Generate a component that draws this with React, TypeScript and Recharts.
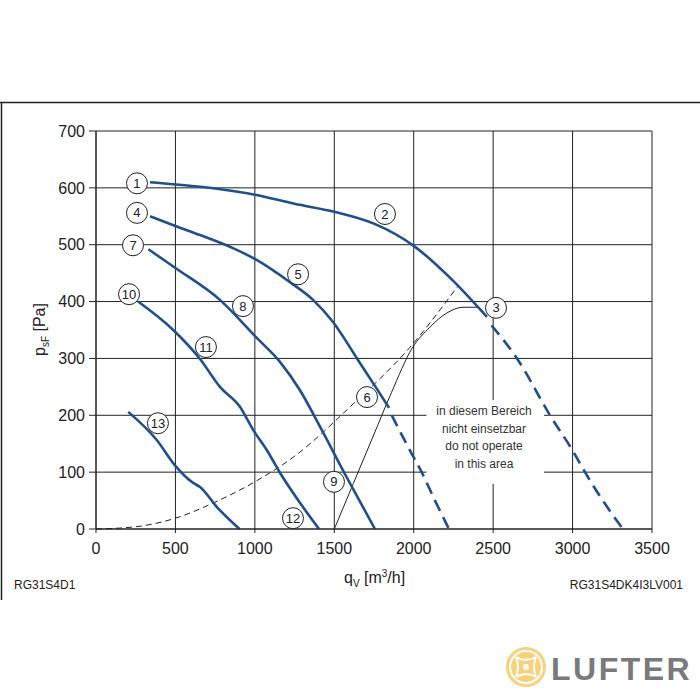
import React from "react";
import { LineChart, Line, XAxis, YAxis, CartesianGrid, ReferenceDot, ReferenceArea } from "recharts";

// q = volume flow [m³/h], p = static pressure [Pa]
const curve1 = [
  { q: 340, p: 610 }, { q: 500, p: 606 }, { q: 750, p: 599 }, { q: 1000, p: 588 },
  { q: 1250, p: 572 }, { q: 1500, p: 558 }, { q: 1750, p: 537 }, { q: 2000, p: 498 },
  { q: 2250, p: 436 }, { q: 2461, p: 373 },
];
const curve1Dash = [
  { q: 2490, p: 358 }, { q: 2650, p: 300 }, { q: 2858, p: 200 }, { q: 3000, p: 138 },
  { q: 3078, p: 100 }, { q: 3200, p: 46 }, { q: 3317, p: 0 },
];
const curve4 = [
  { q: 340, p: 550 }, { q: 500, p: 533 }, { q: 655, p: 517 }, { q: 862, p: 494 },
  { q: 1000, p: 475 }, { q: 1221, p: 434 }, { q: 1366, p: 403 }, { q: 1492, p: 364 },
  { q: 1643, p: 300 }, { q: 1769, p: 246 }, { q: 1845, p: 213 },
];
const curve4Dash = [
  { q: 1862, p: 200 }, { q: 1965, p: 144 }, { q: 2050, p: 100 }, { q: 2134, p: 50 }, { q: 2222, p: 0 },
];
const curve7 = [
  { q: 330, p: 492 }, { q: 500, p: 459 }, { q: 780, p: 403 }, { q: 1012, p: 336 },
  { q: 1158, p: 294 }, { q: 1284, p: 244 }, { q: 1410, p: 180 }, { q: 1578, p: 91 },
  { q: 1756, p: 0 },
];
const curve10 = [
  { q: 265, p: 400 }, { q: 486, p: 350 }, { q: 655, p: 299 }, { q: 780, p: 250 },
  { q: 906, p: 215 }, { q: 990, p: 174 }, { q: 1075, p: 139 }, { q: 1160, p: 98 },
  { q: 1284, p: 46 }, { q: 1404, p: 0 },
];
const curve13 = [
  { q: 203, p: 206 }, { q: 381, p: 157 }, { q: 497, p: 112 }, { q: 612, p: 81 },
  { q: 655, p: 74 }, { q: 760, p: 39 }, { q: 903, p: 0 },
];
const systemDash = [
  { q: 0, p: 0 }, { q: 250, p: 4 }, { q: 500, p: 19 }, { q: 740, p: 46 }, { q: 1000, p: 83 },
  { q: 1250, p: 128 }, { q: 1600, p: 215 }, { q: 1990, p: 324 }, { q: 2280, p: 428 },
];
const limitLine = [
  { q: 1500, p: 0 }, { q: 1620, p: 80 }, { q: 1740, p: 160 }, { q: 1860, p: 240 },
  { q: 1990, p: 318 }, { q: 2102, p: 355 }, { q: 2209, p: 380 }, { q: 2310, p: 390 },
  { q: 2398, p: 390 }, { q: 2440, p: 382 },
];

const xTicks = [0, 500, 1000, 1500, 2000, 2500, 3000, 3500];
const yTicks = [0, 100, 200, 300, 400, 500, 600, 700];

const pointLabels = [
  { n: "1", q: 258, p: 608 }, { n: "2", q: 1819, p: 554 }, { n: "3", q: 2518, p: 389 },
  { n: "4", q: 258, p: 556 }, { n: "5", q: 1272, p: 448 }, { n: "6", q: 1706, p: 232 },
  { n: "7", q: 233, p: 499 }, { n: "8", q: 925, p: 392 }, { n: "9", q: 1498, p: 83 },
  { n: "10", q: 208, p: 413 }, { n: "11", q: 692, p: 320 }, { n: "12", q: 1240, p: 19 },
  { n: "13", q: 390, p: 186 },
];

const noteLines = ["in diesem Bereich", "nicht einsetzbar", "do not operate", "in this area"];

const FONT = "'Liberation Sans', Arial, Helvetica, sans-serif";
const BLUE = "#1f4f8c";
const INK = "#222";

const blueSolid = [curve1, curve4, curve7, curve10, curve13];
const blueDash = [curve1Dash, curve4Dash];

export default function App() {
  return (
    <div style={{ position: "absolute", left: 0, top: 0, width: 700, height: 700, background: "#fff", fontFamily: FONT }}>
      <LineChart width={700} height={700} margin={{ top: 131, right: 48, bottom: 131, left: 36 }}>
        <CartesianGrid stroke={INK} strokeWidth={1} />
        <XAxis
          type="number"
          dataKey="q"
          domain={[0, 3500]}
          ticks={xTicks}
          height={40}
          tickSize={4}
          tickMargin={10}
          axisLine={{ stroke: INK }}
          tickLine={{ stroke: INK }}
          tick={{ fill: INK, fontSize: 16, fontFamily: FONT }}
          interval={0}
        />
        <YAxis
          type="number"
          domain={[0, 700]}
          ticks={yTicks}
          width={60}
          tickSize={7}
          tickMargin={4}
          axisLine={{ stroke: INK }}
          tickLine={{ stroke: INK }}
          tick={{ fill: INK, fontSize: 16, fontFamily: FONT }}
          interval={0}
        />
        <ReferenceArea x1={2080} x2={2820} y1={79} y2={227} fill="#fff" fillOpacity={1} stroke="none" ifOverflow="visible" />
        <Line data={systemDash} dataKey="p" type="monotone" stroke={INK} strokeWidth={1} strokeDasharray="6 4" dot={false} isAnimationActive={false} />
        <Line data={limitLine} dataKey="p" type="monotone" stroke={INK} strokeWidth={1} dot={false} isAnimationActive={false} />
        {blueSolid.map((d, i) => (
          <Line key={"s" + i} data={d} dataKey="p" type="monotone" stroke={BLUE} strokeWidth={2.6} dot={false} isAnimationActive={false} />
        ))}
        {blueDash.map((d, i) => (
          <Line key={"d" + i} data={d} dataKey="p" type="monotone" stroke={BLUE} strokeWidth={2.6} strokeDasharray="12 7" dot={false} isAnimationActive={false} />
        ))}
        {pointLabels.map((l) => (
          <ReferenceDot
            key={l.n}
            x={l.q}
            y={l.p}
            r={10.5}
            fill="#fff"
            stroke={INK}
            strokeWidth={1}
            ifOverflow="visible"
            label={{ value: l.n, position: "center", fill: INK, fontSize: 13, fontFamily: FONT }}
          />
        ))}
      </LineChart>
      <svg width={700} height={700} style={{ position: "absolute", left: 0, top: 0, pointerEvents: "none" }} fontFamily={FONT}>
        <line x1={0} y1={102.5} x2={700} y2={102.5} stroke={INK} strokeWidth={1.5} />
        <line x1={1.5} y1={102} x2={1.5} y2={600} stroke={INK} strokeWidth={1.5} />
        {noteLines.map((t, i) => (
          <text key={t} x={484} y={415 + i * 17.7} textAnchor="middle" fontSize={12} fill="#333">{t}</text>
        ))}
        <text x={344} y={583} fontSize={16} fill={INK}>
          q<tspan fontSize={10} dy={4}>V</tspan>
          <tspan dy={-4}> [m</tspan>
          <tspan fontSize={10} dy={-6}>3</tspan>
          <tspan dy={6}>/h]</tspan>
        </text>
        <text transform="translate(45,356) rotate(-90)" fontSize={16} fill={INK}>
          p<tspan fontSize={10} dy={4}>sF</tspan>
          <tspan dy={-4}> [Pa]</tspan>
        </text>
        <text x={14} y={589} fontSize={12} fill={INK}>RG31S4D1</text>
        <text x={683} y={589} fontSize={12} fill={INK} textAnchor="end">RG31S4DK4I3LV001</text>
        <g>
          <circle cx={526} cy={667} r={20} fill="#f8d27a" />
          <circle cx={526} cy={667} r={16} fill="none" stroke="#fff" strokeWidth={2} />
          <path d="M516 657 Q526 663 536 657 M536 677 Q526 671 516 677 M516 657 Q520 667 516 677 M536 657 Q532 667 536 677" fill="none" stroke="#fff" strokeWidth={2} />
          <circle cx={526} cy={667} r={3} fill="#fff" />
          <text x={551} y={680} fontSize={32} fontWeight="bold" fill="#7a7a7a" letterSpacing={2.5}>LUFTER</text>
        </g>
      </svg>
    </div>
  );
}
